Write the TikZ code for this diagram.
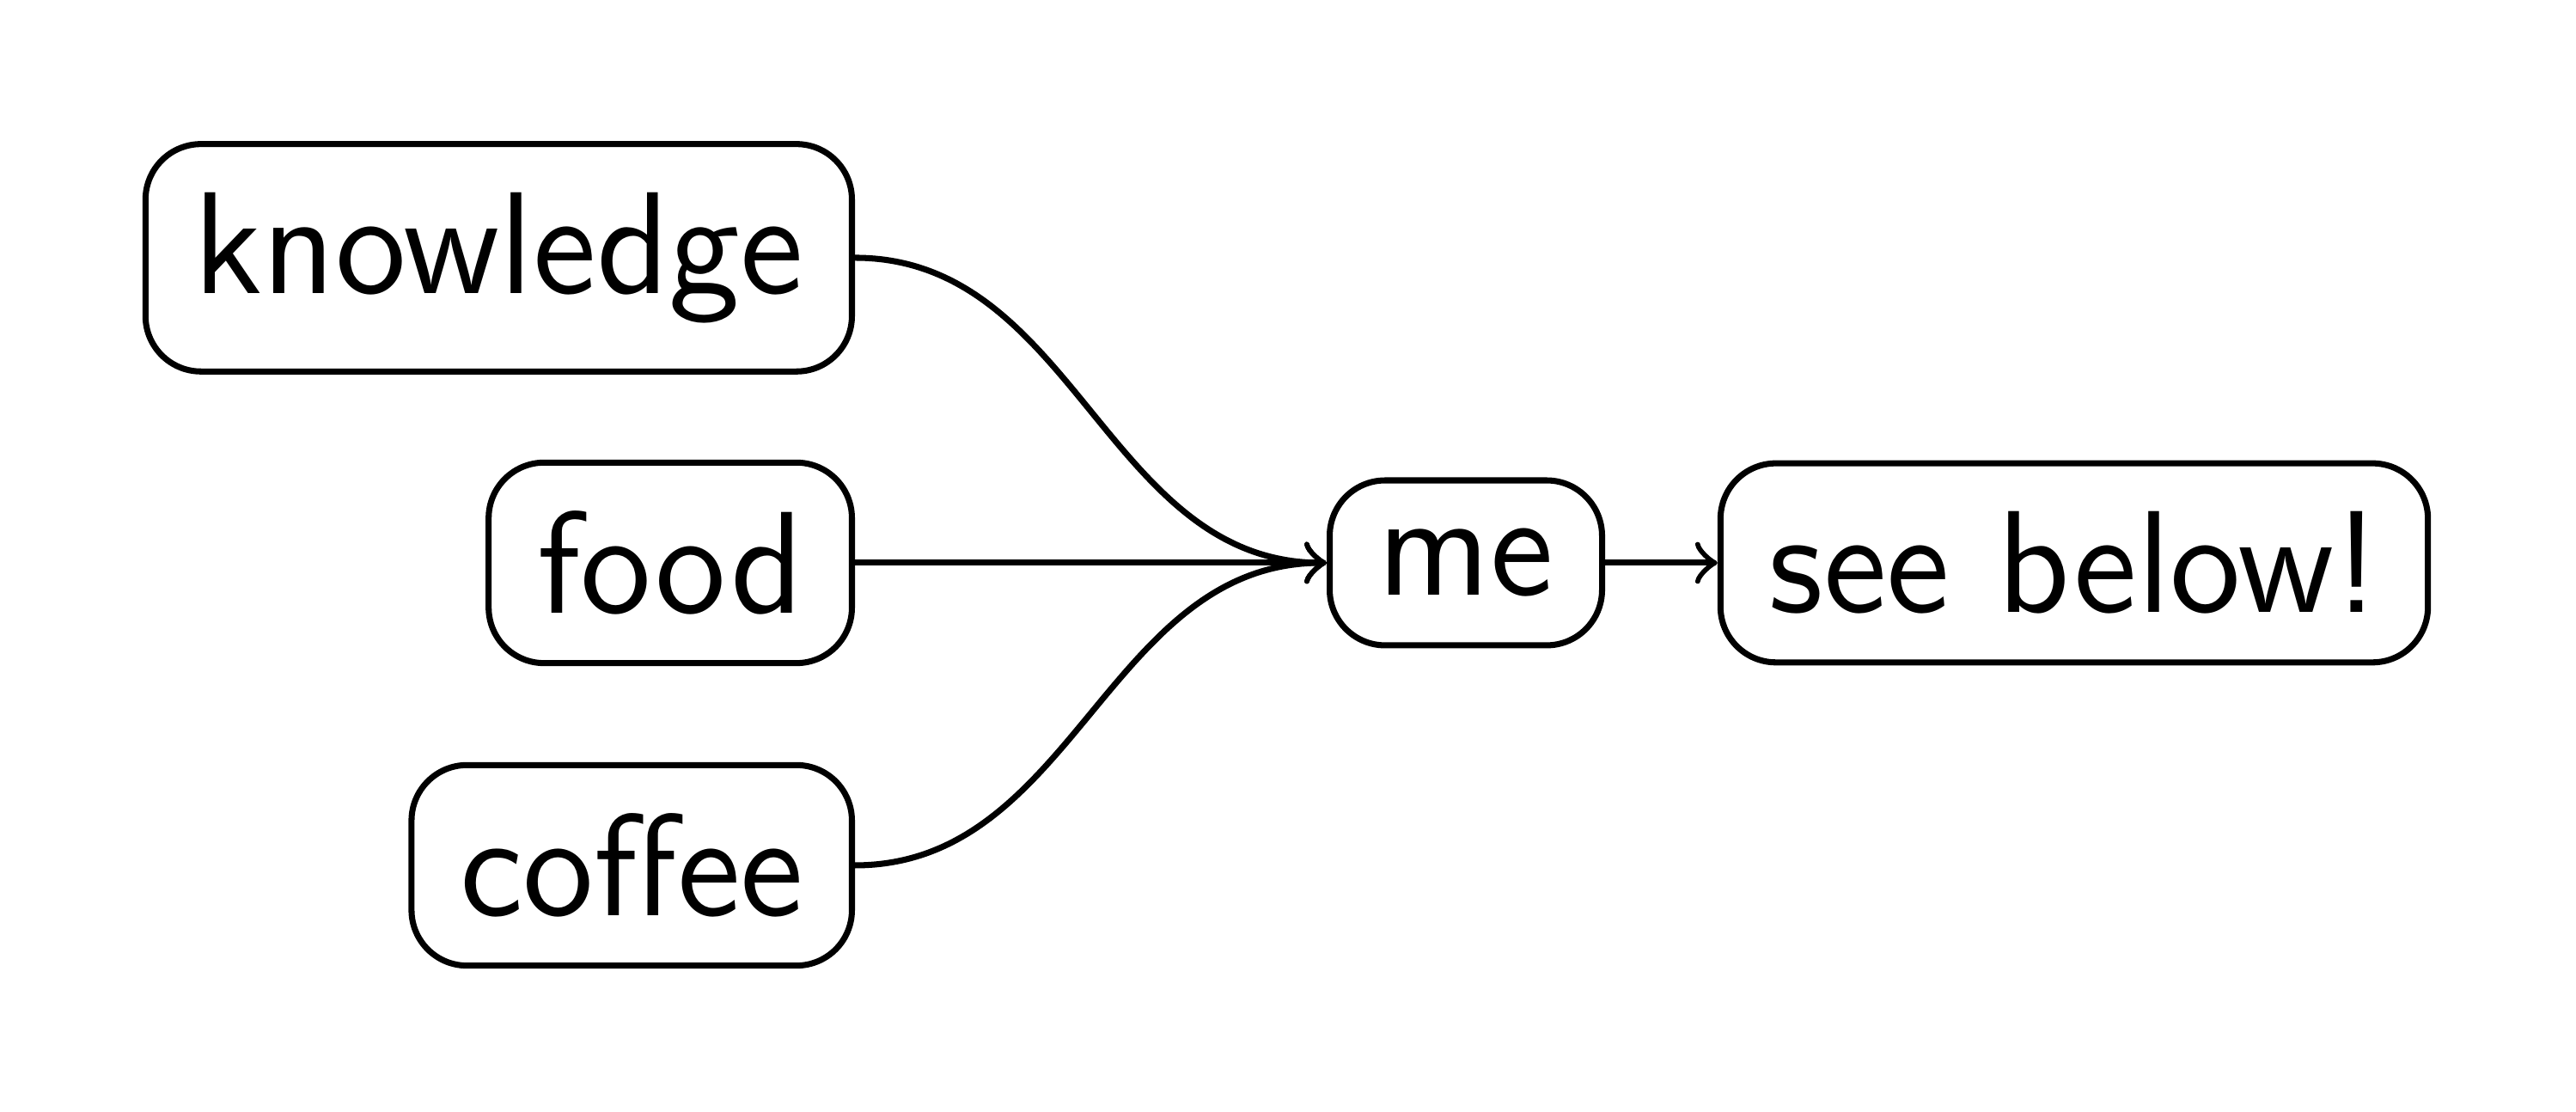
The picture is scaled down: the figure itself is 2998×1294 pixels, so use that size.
\documentclass[tikz,border=0pt]{standalone}
\usetikzlibrary{arrows}
\begin{document}
\begin{tikzpicture}[x=0.0852pt,y=-0.0852pt,
  box/.style={draw,rounded corners=5.5pt,font=\Large\sffamily,inner sep=4.8pt,line width=0.6pt},
  conn/.style={->,line width=0.6pt}]
\useasboundingbox (0,0) rectangle (2998,1294);
\node[box,anchor=east] (knowledge) at (995,300) {knowledge};
\node[box,anchor=east] (food) at (995,655) {food};
\node[box,anchor=east] (coffee) at (995,1007) {coffee};
\node[box] (me) at (1706,655) {me};
\node[box] (below) at (2414,655) {see below!};
\draw[conn] (knowledge.east) to[out=0,in=180] (me.west);
\draw[conn] (food.east) -- (me.west);
\draw[conn] (coffee.east) to[out=0,in=180] (me.west);
\draw[conn] (me.east) -- (below.west);
\end{tikzpicture}
\end{document}
